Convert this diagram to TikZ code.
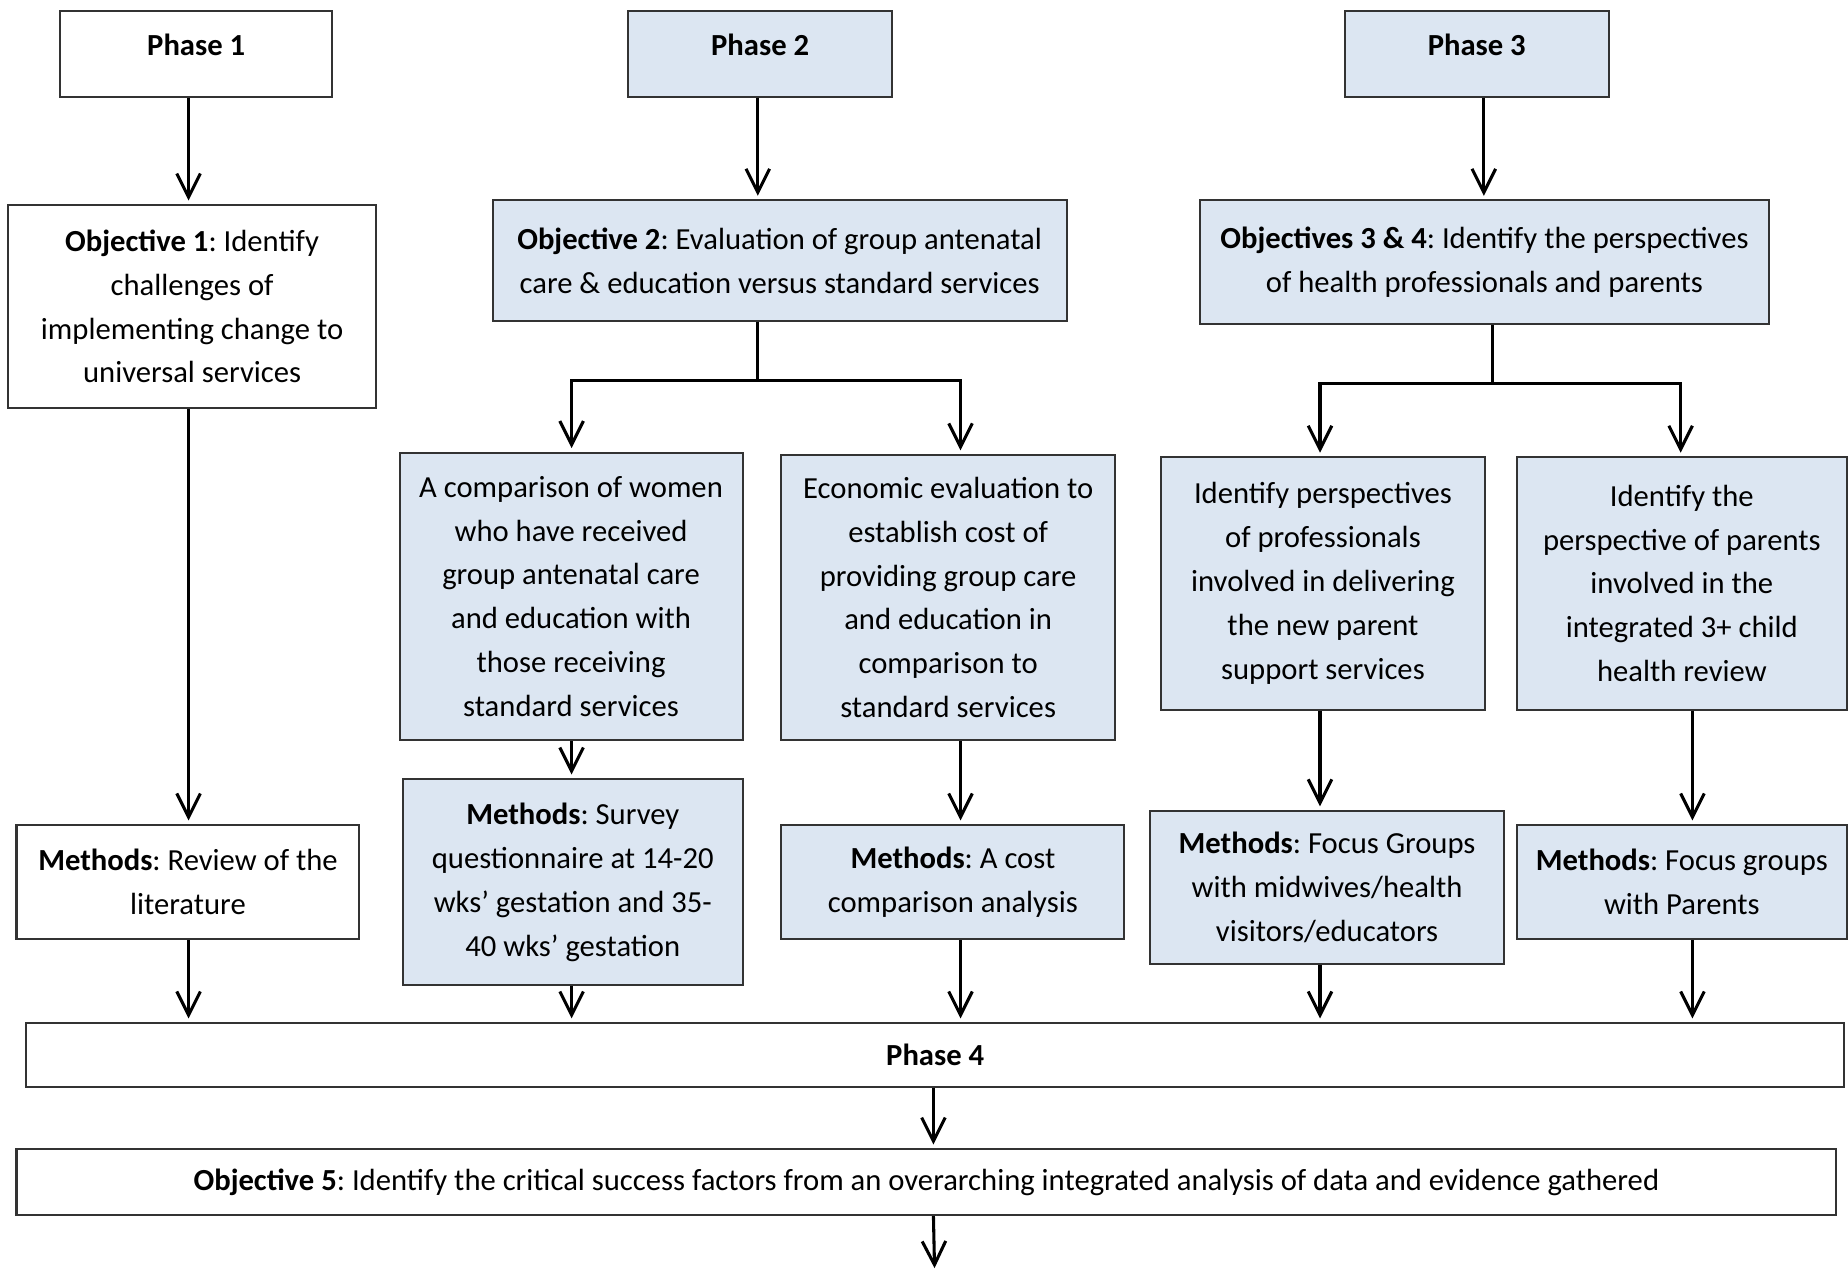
\documentclass[tikz,border=0pt]{standalone}
\usepackage{fontspec}
\setmainfont{Carlito}
\usepackage{xcolor}
\usepackage{tikz}
\usetikzlibrary{arrows.meta}
\definecolor{paleblue}{HTML}{DCE6F2}
\frenchspacing

\begin{document}
\begin{tikzpicture}[x=0.5pt, y=-0.5pt,
    box/.style={draw=black!80, line width=0.85pt, align=center, inner sep=0pt,
      font=\fontsize{13}{18.6}\selectfont},
    bluebox/.style={box, fill=paleblue},
    dims/.style 2 args={minimum width=#1*0.5pt, minimum height=#2*0.5pt},
    phasetext/.style={text height=9pt, text depth=7.5pt},
    link/.style={line width=1.3pt},
    arr/.style={link, -{Straight Barb[length=10pt, width=10pt]}, shorten >=1.5pt}]
    \useasboundingbox (0,0) rectangle (1568,1080);

    \node[box, dims={231}{73}, phasetext] (ph1) at (166.5,45.5) {\textbf{Phase 1}};
    \node[bluebox, dims={224}{73}, phasetext] (ph2) at (645,45.5) {\textbf{Phase 2}};
    \node[bluebox, dims={224}{73}, phasetext] (ph3) at (1253,45.5) {\textbf{Phase 3}};

    \node[box, dims={312}{172}] (obj1) at (163,260)
      {\textbf{Objective 1}: Identify\\challenges of\\implementing change to\\universal services};
    \node[bluebox, dims={487}{102}] (obj2) at (661.5,221)
      {\textbf{Objective 2}: Evaluation of group antenatal\\care \& education versus standard services};
    \node[bluebox, dims={483}{105}] (obj3) at (1259.5,222.5)
      {\textbf{Objectives 3 \& 4}: Identify the perspectives\\of health professionals and parents};

    \node[bluebox, dims={291}{244}] (cmp) at (484.5,506)
      {A comparison of women\\who have received\\group antenatal care\\and education with\\those receiving\\standard services};
    \node[bluebox, dims={283}{242}] (eco) at (804.5,507)
      {Economic evaluation to\\establish cost of\\providing group care\\and education in\\comparison to\\standard services};
    \node[bluebox, dims={275}{214}] (prof) at (1122.5,495)
      {Identify perspectives\\of professionals\\involved in delivering\\the new parent\\support services};
    \node[bluebox, dims={280}{214}] (par) at (1427,495)
      {Identify the\\perspective of parents\\involved in the\\integrated 3+ child\\health review};

    \node[box, dims={291}{97}] (m1) at (159.5,748.5)
      {\textbf{Methods}: Review of the\\literature};
    \node[bluebox, dims={288}{175}] (m2) at (486,748.5)
      {\textbf{Methods}: Survey\\questionnaire at 14-20\\wks’ gestation and 35-\\40 wks’ gestation};
    \node[bluebox, dims={291}{97}] (m3) at (808.5,748.5)
      {\textbf{Methods}: A cost\\comparison analysis};
    \node[bluebox, dims={300}{130}] (m4) at (1126,753)
      {\textbf{Methods}: Focus Groups\\with midwives/health\\visitors/educators};
    \node[bluebox, dims={280}{97}] (m5) at (1427,748.5)
      {\textbf{Methods}: Focus groups\\with Parents};

    \node[box, dims={1543}{54}] (ph4) at (793.5,895) {\textbf{Phase 4}};
    \node[box, dims={1544}{56}] (obj5) at (786,1003)
      {\textbf{Objective 5}: Identify the critical success factors from an overarching integrated analysis of data and evidence gathered};

    \coordinate (c1) at (160,0);
    \coordinate (c2) at (643,0);
    \coordinate (j2) at (643,323);
    \coordinate (c2a) at (485,0);
    \coordinate (c2b) at (815,0);
    \coordinate (c3) at (1259,0);
    \coordinate (j3) at (1266,325);
    \coordinate (c3a) at (1120,0);
    \coordinate (c3b) at (1436,0);
    \coordinate (c3c) at (1426,0);
    \coordinate (c4) at (792,0);
    \coordinate (out) at (793,1079);

    \draw[arr] (ph1.south -| c1) -- (obj1.north -| c1);
    \draw[arr] (obj1.south -| c1) -- (m1.north -| c1);
    \draw[arr] (m1.south -| c1) -- (ph4.north -| c1);

    \draw[arr] (ph2.south -| c2) -- (obj2.north -| c2);
    \draw[link] (obj2.south -| j2) -- (j2);
    \draw[arr] (j2) -| (cmp.north -| c2a);
    \draw[arr] (j2) -| (eco.north -| c2b);
    \draw[arr] (cmp.south -| c2a) -- (m2.north -| c2a);
    \draw[arr] (m2.south -| c2a) -- (ph4.north -| c2a);
    \draw[arr] (eco.south -| c2b) -- (m3.north -| c2b);
    \draw[arr] (m3.south -| c2b) -- (ph4.north -| c2b);

    \draw[arr] (ph3.south -| c3) -- (obj3.north -| c3);
    \draw[link] (obj3.south -| j3) -- (j3);
    \draw[arr] (j3) -| (prof.north -| c3a);
    \draw[arr] (j3) -| (par.north -| c3c);
    \draw[arr] (prof.south -| c3a) -- (m4.north -| c3a);
    \draw[arr] (m4.south -| c3a) -- (ph4.north -| c3a);
    \draw[arr] (par.south -| c3b) -- (m5.north -| c3b);
    \draw[arr] (m5.south -| c3b) -- (ph4.north -| c3b);

    \draw[arr] (ph4.south -| c4) -- (obj5.north -| c4);
    \draw[arr] (obj5.south -| c4) -- (out);
\end{tikzpicture}
\end{document}
